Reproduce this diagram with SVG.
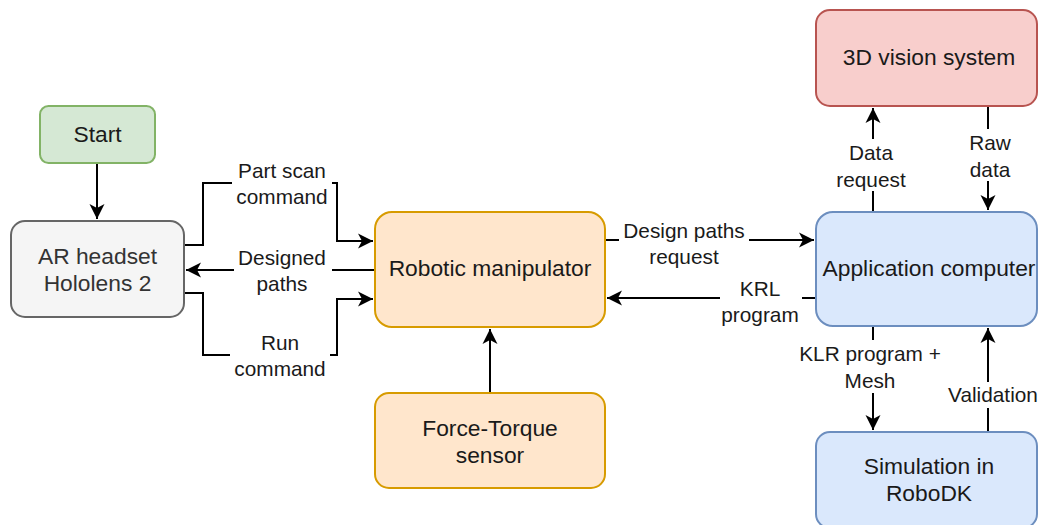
<svg xmlns="http://www.w3.org/2000/svg" width="1038" height="525" viewBox="0 0 1038 525">
<defs>
<style>
text{font-family:"Liberation Sans",Arial,Helvetica,sans-serif;fill:#1a1a1a;text-anchor:middle;dominant-baseline:central}
.n{font-size:22.8px}
.l{font-size:20.8px}
.box{stroke-width:2}
.c{fill:none;stroke:#000;stroke-width:2}
.bg{fill:#fff;stroke:none}
</style>
<marker id="ah" markerUnits="userSpaceOnUse" markerWidth="16" markerHeight="16" viewBox="0 0 16 16" refX="15" refY="8" orient="auto">
<path d="M0,0.5 L15,8 L0,15.5 L4,8 z" fill="#000"/>
</marker>
</defs>
<rect width="1038" height="525" fill="#fff"/>
<g id="connectors">
<path class="c" d="M97,163 V219" marker-end="url(#ah)"/>
<path class="c" d="M184,245 H203 V183 H337 V241 H373" marker-end="url(#ah)"/>
<path class="c" d="M375,270 H186" marker-end="url(#ah)"/>
<path class="c" d="M184,293 H203 V355 H337 V299 H373" marker-end="url(#ah)"/>
<path class="c" d="M490,393 V329" marker-end="url(#ah)"/>
<path class="c" d="M605,240 H814" marker-end="url(#ah)"/>
<path class="c" d="M816,298 H607" marker-end="url(#ah)"/>
<path class="c" d="M873,212 V108" marker-end="url(#ah)"/>
<path class="c" d="M988,106 V210" marker-end="url(#ah)"/>
<path class="c" d="M873,326 V430" marker-end="url(#ah)"/>
<path class="c" d="M988,432 V328" marker-end="url(#ah)"/>
<g id="labels">
<rect class="bg" x="232" y="157" width="100" height="52"/>
<text class="l" x="282" y="170">Part scan</text>
<text class="l" x="282" y="196">command</text>
<rect class="bg" x="234" y="244" width="98" height="52"/>
<text class="l" x="282" y="257">Designed</text>
<text class="l" x="282" y="283">paths</text>
<rect class="bg" x="230" y="329" width="100" height="52"/>
<text class="l" x="280" y="342">Run</text>
<text class="l" x="280" y="368">command</text>
<rect class="bg" x="619" y="217" width="130" height="52"/>
<text class="l" x="684" y="230">Design paths</text>
<text class="l" x="684" y="256">request</text>
<rect class="bg" x="720" y="275" width="82" height="52"/>
<text class="l" x="760" y="288">KRL</text>
<text class="l" x="760" y="314">program</text>
<rect class="bg" x="833" y="139" width="78" height="52"/>
<text class="l" x="871" y="152">Data</text>
<text class="l" x="871" y="179">request</text>
<rect class="bg" x="964" y="129" width="52" height="52"/>
<text class="l" x="990" y="142">Raw</text>
<text class="l" x="990" y="169">data</text>
<rect class="bg" x="794" y="340" width="154" height="53"/>
<text class="l" x="870" y="353">KLR program +</text>
<text class="l" x="870" y="380">Mesh</text>
<rect class="bg" x="945" y="382" width="93" height="26"/>
<text class="l" x="993" y="394">Validation</text>
</g>
</g>
<g id="start">
<rect class="box" x="40" y="106" width="115" height="57" rx="8.5" fill="#d5e8d4" stroke="#82b366"/>
<text class="n" x="97.5" y="134">Start</text>
</g>
<g id="ar-headset">
<rect class="box" x="11" y="221" width="173" height="96" rx="14" fill="#f5f5f5" stroke="#666666"/>
<text class="n" x="97.5" y="256" style="fill:#333">AR headset</text>
<text class="n" x="97.5" y="283" style="fill:#333">Hololens 2</text>
</g>
<g id="robotic-manipulator">
<rect class="box" x="375" y="212" width="230" height="115" rx="17" fill="#ffe6cc" stroke="#d79b00"/>
<text class="n" x="490" y="268">Robotic manipulator</text>
</g>
<g id="force-torque">
<rect class="box" x="375" y="393" width="230" height="95" rx="14" fill="#ffe6cc" stroke="#d79b00"/>
<text class="n" x="490" y="428">Force-Torque</text>
<text class="n" x="490" y="455">sensor</text>
</g>
<g id="vision">
<rect class="box" x="816" y="10" width="221" height="96" rx="14" fill="#f8cecc" stroke="#b85450"/>
<text class="n" x="929" y="57">3D vision system</text>
</g>
<g id="app-computer">
<rect class="box" x="816" y="212" width="221" height="114" rx="17" fill="#dae8fc" stroke="#6c8ebf"/>
<text class="n" x="929" y="268">Application computer</text>
</g>
<g id="simulation">
<rect class="box" x="816" y="432" width="221" height="96" rx="14" fill="#dae8fc" stroke="#6c8ebf"/>
<text class="n" x="929" y="466">Simulation in</text>
<text class="n" x="929" y="493">RoboDK</text>
</g>
</svg>
